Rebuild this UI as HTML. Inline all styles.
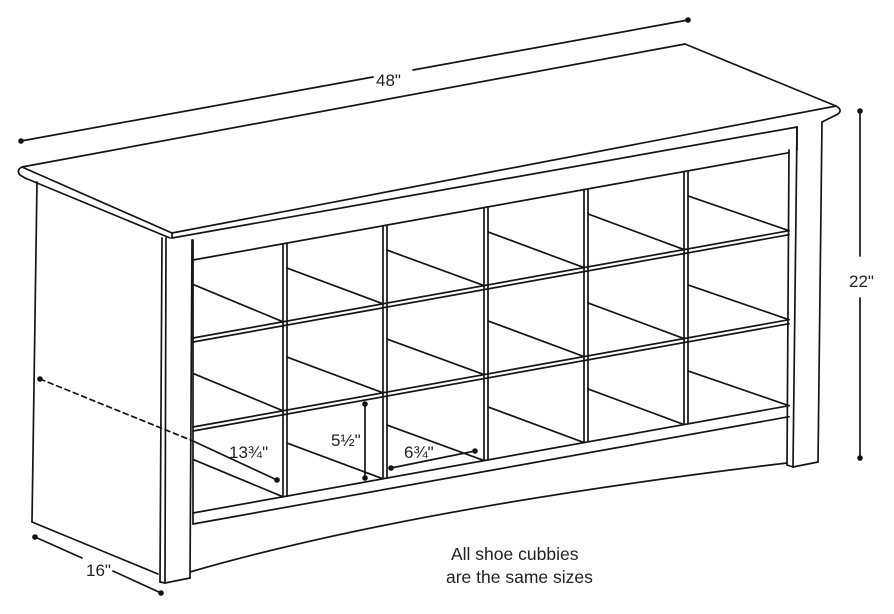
<!DOCTYPE html>
<html><head><meta charset="utf-8"><style>
html,body{margin:0;padding:0;background:#fff;width:894px;height:614px;overflow:hidden}
svg{display:block}
text{font-family:"Liberation Sans",sans-serif;fill:#222}
</style></head><body>
<svg width="894" height="614" viewBox="0 0 894 614" xmlns="http://www.w3.org/2000/svg">
<g stroke="#151515" stroke-width="1.7" fill="none" stroke-linecap="round">
<line x1="21" y1="141" x2="373" y2="77"/>
<line x1="413" y1="70" x2="688" y2="20"/>
<path d="M685,44 L22,167 Q16,170 20,175 L25,178 L170,238"/>
<line x1="22" y1="167" x2="172" y2="233"/>
<line x1="685" y1="44" x2="836" y2="106"/>
<path d="M172,233 L836,106 Q843,110 838,114 L822,122"/>
<line x1="172" y1="233" x2="172" y2="238"/>
<line x1="172" y1="238" x2="797" y2="127"/>
<line x1="37" y1="182" x2="32" y2="522"/>
<line x1="32" y1="522" x2="158" y2="574"/>
<line x1="162" y1="238" x2="160" y2="582"/>
<line x1="166" y1="238" x2="165" y2="582"/>
<line x1="192" y1="240" x2="190" y2="578"/>
<line x1="160" y1="582" x2="165" y2="583"/>
<line x1="165" y1="583" x2="190" y2="578"/>
<line x1="797" y1="127" x2="793" y2="467"/>
<line x1="822" y1="122" x2="818" y2="462"/>
<line x1="789" y1="150" x2="787" y2="465"/>
<line x1="787" y1="465" x2="793" y2="467"/>
<line x1="793" y1="467" x2="818" y2="462"/>
<line x1="797" y1="127" x2="797" y2="150"/>
<line x1="193" y1="240" x2="193" y2="524"/>
<line x1="193" y1="260" x2="789" y2="152.7"/>
<line x1="193" y1="338" x2="789" y2="230.7"/>
<line x1="193" y1="342" x2="789" y2="234.7"/>
<line x1="193" y1="427" x2="789" y2="319.7"/>
<line x1="193" y1="431" x2="789" y2="323.7"/>
<line x1="193" y1="513" x2="789" y2="405.7"/>
<line x1="193" y1="524" x2="789" y2="416.7"/>
<path d="M190,572 Q411,508 787,463"/>
<line x1="283" y1="243.8" x2="283" y2="496.8"/><line x1="287" y1="243.1" x2="287" y2="496.1"/>
<line x1="383" y1="225.8" x2="383" y2="478.8"/><line x1="387" y1="225.1" x2="387" y2="478.1"/>
<line x1="484" y1="207.6" x2="484" y2="460.6"/><line x1="488" y1="206.9" x2="488" y2="459.9"/>
<line x1="584" y1="189.6" x2="584" y2="442.6"/><line x1="588" y1="188.9" x2="588" y2="441.9"/>
<line x1="684" y1="171.6" x2="684" y2="424.6"/><line x1="688" y1="170.9" x2="688" y2="423.9"/>
<line x1="194" y1="284.8" x2="283" y2="321.8"/>
<line x1="287" y1="268.1" x2="383" y2="303.8"/>
<line x1="387" y1="250.1" x2="484" y2="285.6"/>
<line x1="488" y1="231.9" x2="584" y2="267.6"/>
<line x1="588" y1="213.9" x2="684" y2="249.6"/>
<line x1="688" y1="195.9" x2="789" y2="230.7"/>
<line x1="194" y1="373.8" x2="283" y2="410.8"/>
<line x1="287" y1="357.1" x2="383" y2="392.8"/>
<line x1="387" y1="339.1" x2="484" y2="374.6"/>
<line x1="488" y1="320.9" x2="584" y2="356.6"/>
<line x1="588" y1="302.9" x2="684" y2="338.6"/>
<line x1="688" y1="284.9" x2="789" y2="319.7"/>
<line x1="194" y1="459.8" x2="283" y2="496.8"/>
<line x1="287" y1="443.1" x2="383" y2="478.8"/>
<line x1="387" y1="425.1" x2="484" y2="460.6"/>
<line x1="488" y1="406.9" x2="584" y2="442.6"/>
<line x1="588" y1="388.9" x2="684" y2="424.6"/>
<line x1="688" y1="370.9" x2="789" y2="405.7"/>
<line x1="40" y1="379" x2="193" y2="441" stroke-dasharray="5,4"/>
<line x1="193" y1="441" x2="277" y2="480"/>
<line x1="365" y1="404" x2="365" y2="478"/>
<line x1="391" y1="468" x2="475" y2="451"/>
<line x1="35" y1="537" x2="82" y2="558"/>
<line x1="113" y1="571" x2="161" y2="593"/>
<line x1="860" y1="111" x2="860" y2="256"/>
<line x1="860" y1="298" x2="860" y2="458"/>
</g>
<g fill="#111">
<circle cx="21" cy="141" r="2.8"/><circle cx="688" cy="20" r="2.8"/>
<circle cx="40" cy="379" r="2.8"/><circle cx="277" cy="480" r="2.8"/>
<circle cx="365" cy="404" r="2.8"/><circle cx="365" cy="478" r="2.8"/>
<circle cx="391" cy="468" r="2.8"/><circle cx="475" cy="451" r="2.8"/>
<circle cx="35" cy="537" r="2.8"/><circle cx="161" cy="593" r="2.8"/>
<circle cx="860" cy="111" r="2.8"/><circle cx="860" cy="458" r="2.8"/>
</g>
<text x="376" y="86" font-size="17">48"</text>
<text x="229" y="458" font-size="17">13¾"</text>
<text x="331" y="446" font-size="17">5½"</text>
<text x="404" y="458" font-size="17">6¾"</text>
<text x="86" y="576" font-size="17">16"</text>
<text x="849" y="287" font-size="17">22"</text>
<text x="451" y="560" font-size="17.5">All shoe cubbies</text>
<text x="446" y="583" font-size="17.5">are the same sizes</text>
</svg>
</body></html>
